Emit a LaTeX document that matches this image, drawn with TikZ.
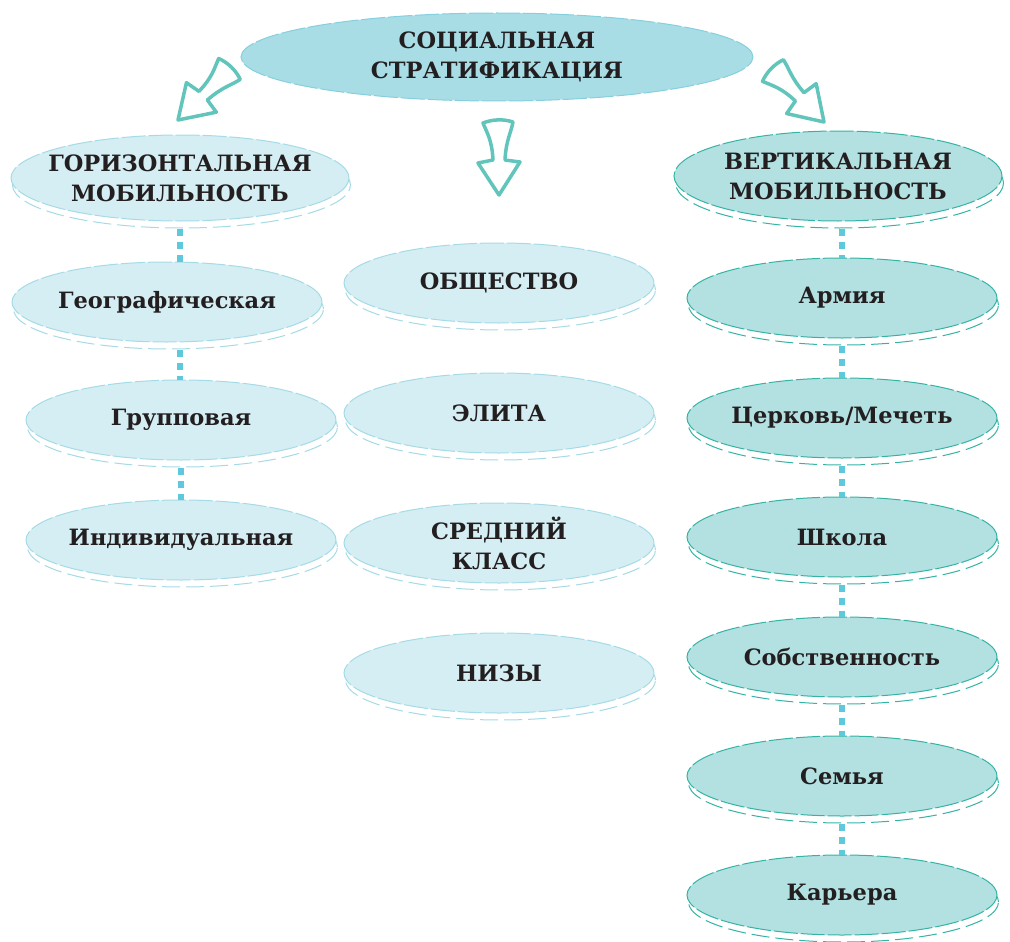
\documentclass[tikz,border=0pt]{standalone}
\usepackage{fontspec}
\setmainfont{DejaVu Serif}
\usetikzlibrary{shapes.geometric,shadows,calc}
\definecolor{topfill}{HTML}{A8DDE6}
\definecolor{topline}{HTML}{86CFDD}
\definecolor{lightfill}{HTML}{D5EEF3}
\definecolor{lightline}{HTML}{A5DBE6}
\definecolor{tealfill}{HTML}{B3E0E1}
\definecolor{tealline}{HTML}{35B4A6}
\definecolor{dotcol}{HTML}{5EC9DB}
\definecolor{arrowcol}{HTML}{62C5BB}
\definecolor{txt}{HTML}{231F20}
\tikzset{
  lbl/.style={font=\bfseries\fontsize{22.5}{30}\selectfont, text=txt, align=center, inner sep=0pt},
  oval/.style={ellipse, inner sep=0pt, minimum width=310pt, minimum height=80pt, line width=1pt, dash pattern=on 24pt off 3pt},
  lightoval/.style={oval, fill=lightfill, draw=lightline,
    copy shadow={shadow xshift=1.5pt, shadow yshift=-7pt, fill=white, draw=lightline, dash pattern=on 18pt off 6pt, line width=1pt}},
  tealoval/.style={oval, fill=tealfill, draw=tealline,
    copy shadow={shadow xshift=1.5pt, shadow yshift=-7pt, fill=white, draw=tealline, dash pattern=on 18pt off 6pt, line width=1pt}},
  topoval/.style={oval, fill=topfill, draw=topline, minimum width=512pt, minimum height=88pt},
  txt/.style={label={[lbl]center:{#1}}},
  dotline/.style={draw=dotcol, line width=6pt, dash pattern=on 7pt off 6pt},
  hollowarrow/.style={draw=arrowcol, line width=3.5pt, fill=white, line join=round},
  harrow/.pic={
    \draw[hollowarrow] (0,0) -- (21,-33) -- (6,-35)
      .. controls (7,-55) and (12,-62) .. (14,-73)
      .. controls (5,-76) and (-6,-76) .. (-16,-72)
      .. controls (-12,-62) and (-7,-55) .. (-6,-35)
      -- (-21,-32) -- cycle;
  }
}
\begin{document}
\begin{tikzpicture}[x=1pt,y=-1pt]
\useasboundingbox (0,0) rectangle (1010,942);
% top
\node[topoval, txt={СОЦИАЛЬНАЯ\\СТРАТИФИКАЦИЯ}] (top) at (497,57) {};
% headers
\node[lightoval, minimum width=338pt, minimum height=86pt, txt={ГОРИЗОНТАЛЬНАЯ\\МОБИЛЬНОСТЬ}] (hor) at (180,178) {};
\node[tealoval, minimum width=328pt, minimum height=90pt, txt={ВЕРТИКАЛЬНАЯ\\МОБИЛЬНОСТЬ}] (ver) at (838,176) {};
% left column
\node[lightoval, txt={Географическая}] (geo) at (167,302) {};
\node[lightoval, txt={Групповая}] (grp) at (181,420) {};
\node[lightoval, txt={Индивидуальная}] (ind) at (181,540) {};
% middle column
\node[lightoval, txt={ОБЩЕСТВО}] (soc) at (499,283) {};
\node[lightoval, txt={ЭЛИТА}] (eli) at (499,413) {};
\node[lightoval, txt={СРЕДНИЙ\\КЛАСС}] (mid) at (499,543) {};
\node[lightoval, txt={НИЗЫ}] (low) at (499,673) {};
% right column
\node[tealoval, txt={Армия}] (arm) at (842,298) {};
\node[tealoval, txt={Церковь/Мечеть}] (chu) at (842,418) {};
\node[tealoval, txt={Школа}] (sch) at (842,537) {};
\node[tealoval, txt={Собственность}] (own) at (842,657) {};
\node[tealoval, txt={Семья}] (fam) at (842,776) {};
\node[tealoval, txt={Карьера}] (car) at (842,895) {};
% dotted connectors left
\draw[dotline] ($(hor.south)+(0,7)$) -- (hor.south |- geo.north);
\draw[dotline] ($(geo.south -| hor.south)+(0,7)$) -- (hor.south |- grp.north);
\draw[dotline] ($(grp.south)+(0,7)$) -- (ind.north);
% dotted connectors right
\draw[dotline] ($(ver.south -| arm.south)+(0,7)$) -- (arm.north);
\draw[dotline] ($(arm.south)+(0,7)$) -- (chu.north);
\draw[dotline] ($(chu.south)+(0,7)$) -- (sch.north);
\draw[dotline] ($(sch.south)+(0,7)$) -- (own.north);
\draw[dotline] ($(own.south)+(0,7)$) -- (fam.north);
\draw[dotline] ($(fam.south)+(0,7)$) -- (car.north);
% hollow arrows
\pic[rotate=-46] at (178,120) {harrow};
\pic at (499,195) {harrow};
\pic[rotate=44] at (824,122) {harrow};
\end{tikzpicture}
\end{document}
